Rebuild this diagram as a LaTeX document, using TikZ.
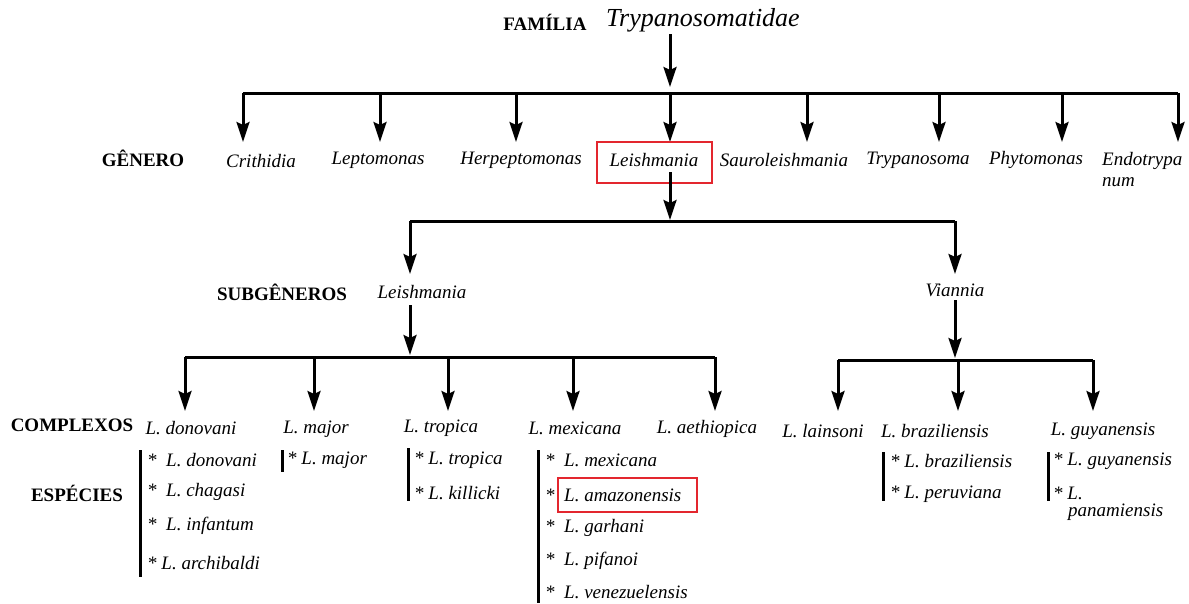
\documentclass[tikz,border=0pt]{standalone}
\usepackage{fontspec}
\setmainfont{Liberation Serif}
\usetikzlibrary{arrows.meta}
\definecolor{boxred}{HTML}{E3262E}
\tikzset{
  line/.style={line width=3pt},
  arr/.style={line width=3pt,-{Stealth[length=20pt,width=13pt,inset=3pt]}},
  lbl/.style={font=\fontsize{19}{22}\selectfont\bfseries,inner sep=0pt},
  tax/.style={font=\fontsize{19}{22}\selectfont\itshape,inner sep=0pt},
  sp/.style={font=\fontsize{19}{22}\selectfont\itshape,inner sep=0pt,anchor=west},
  redbox/.style={draw=boxred,line width=2.8pt},
}
\begin{document}
\begin{tikzpicture}[x=1pt,y=-1pt]
\useasboundingbox (0,0) rectangle (1189,603);
% family
\node[lbl] (fam) at (545,22) {FAMÍLIA};
\node[tax,font=\fontsize{26}{30}\selectfont\itshape] (tryp) at (703,20) {Trypanosomatidae};
\coordinate (t0) at (670,34);
\coordinate (j0) at (670,87);
\draw[arr] (t0) -- (j0);
\coordinate (bl0) at (243,93);
\coordinate (br0) at (1178,93);
\draw[line] (bl0) -- (br0);
% genus arrows
\foreach \x/\n in {243/1,380/2,516/3,670/4,807/5,939/6,1062/7,1178/8}{
  \coordinate (gj\n) at (\x,93);
  \coordinate (ga\n) at (\x,142);
  \draw[arr] (gj\n) -- (ga\n);
}
\node[lbl] (gen) at (143,158) {GÊNERO};
\node[tax] (crith) at (261,161) {Crithidia};
\node[tax] (lepto) at (378,160) {Leptomonas};
\node[tax] (herp) at (521,160) {Herpeptomonas};
\node[tax] (leish) at (654,160) {Leishmania};
\node[redbox,minimum width=115pt,minimum height=41pt,inner sep=0pt] (leishbox) at (654.5,162.5) {};
\node[tax] (sauro) at (784,160) {Sauroleishmania};
\node[tax] (tryps) at (918,160) {Trypanosoma};
\node[tax] (phyto) at (1036,160) {Phytomonas};
\node[tax,anchor=west,align=left,font=\fontsize{19}{21}\selectfont\itshape] (endo) at (1102,170) {Endotrypa\\num};
% subgenus level
\coordinate (l0) at (670,172);
\coordinate (j1) at (670,220);
\draw[arr] (l0) -- (j1);
\coordinate (bl1) at (410,221);
\coordinate (br1) at (955,221);
\draw[line] (bl1) -- (br1);
\coordinate (sa1) at (410,274);
\coordinate (sa2) at (955,274);
\draw[arr] (bl1) -- (sa1);
\draw[arr] (br1) -- (sa2);
\node[lbl] (subg) at (282,292) {SUBGÊNEROS};
\node[tax] (subl) at (422,292) {Leishmania};
\node[tax] (vian) at (955,290) {Viannia};
% complexes, subgenus Leishmania
\coordinate (s1) at (410,305);
\coordinate (j2) at (410,355);
\draw[arr] (s1) -- (j2);
\coordinate (bl2) at (185,357);
\coordinate (br2) at (715,357);
\draw[line] (bl2) -- (br2);
\foreach \x/\n in {185/1,314/2,448/3,573/4,715/5}{
  \coordinate (cj\n) at (\x,357);
  \coordinate (ca\n) at (\x,411);
  \draw[arr] (cj\n) -- (ca\n);
}
% complexes, subgenus Viannia
\coordinate (s2) at (955,300);
\coordinate (j3) at (955,358);
\draw[arr] (s2) -- (j3);
\coordinate (bl3) at (838,360);
\coordinate (br3) at (1093,360);
\draw[line] (bl3) -- (br3);
\foreach \x/\n in {838/6,958/7,1093/8}{
  \coordinate (cj\n) at (\x,360);
  \coordinate (ca\n) at (\x,411);
  \draw[arr] (cj\n) -- (ca\n);
}
\node[lbl] (compl) at (72,425) {COMPLEXOS};
\node[tax] (cdon) at (191,428) {L. donovani};
\node[tax] (cmaj) at (316,429) {L. major};
\node[tax] (ctro) at (441,428) {L. tropica};
\node[tax] (cmex) at (575,428) {L. mexicana};
\node[tax] (caet) at (707,429) {L. aethiopica};
\node[tax] (clai) at (823,431) {L. lainsoni};
\node[tax] (cbra) at (935,431) {L. braziliensis};
\node[tax] (cguy) at (1103,431) {L. guyanensis};
% species
\node[lbl] (esp) at (77,493) {ESPÉCIES};
% donovani
\coordinate (d1) at (140,450); \coordinate (d2) at (140,577);
\draw[line] (d1) -- (d2);
\node[sp] (sdon) at (147,460) {*\ \ L. donovani};
\node[sp] (scha) at (147,492) {*\ \ L. chagasi};
\node[sp] (sinf) at (147,526) {*\ \ L. infantum};
\node[sp] (sarc) at (147,563) {* L. archibaldi};
% major
\coordinate (m1) at (282,450); \coordinate (m2) at (282,472);
\draw[line] (m1) -- (m2);
\node[sp] (smaj) at (287,460) {* L. major};
% tropica
\coordinate (r1) at (408,448); \coordinate (r2) at (408,501);
\draw[line] (r1) -- (r2);
\node[sp] (stro) at (414,460) {* L. tropica};
\node[sp] (skil) at (414,493) {* L. killicki};
% mexicana
\coordinate (x1) at (538,450); \coordinate (x2) at (538,603);
\draw[line] (x1) -- (x2);
\node[sp] (smex) at (545,460) {*\ \ L. mexicana};
\node[sp] (sama) at (545,495) {*\ \ L. amazonensis};
\node[sp] (sgar) at (545,528) {*\ \ L. garhani};
\node[sp] (spif) at (545,561) {*\ \ L. pifanoi};
\node[sp] (sven) at (545,592) {*\ \ L. venezuelensis};
\node[redbox,minimum width=139pt,minimum height=34pt,inner sep=0pt] (amabox) at (627.5,495) {};
% braziliensis
\coordinate (z1) at (883,452); \coordinate (z2) at (883,501);
\draw[line] (z1) -- (z2);
\node[sp] (sbra) at (890,461) {* L. braziliensis};
\node[sp] (sper) at (890,494) {* L. peruviana};
% guyanensis
\coordinate (y1) at (1048,452); \coordinate (y2) at (1048,501);
\draw[line] (y1) -- (y2);
\node[sp] (sguy) at (1053,461) {* L. guyanensis};
\node[sp] (span) at (1053,493) {* L.};
\node[sp] (span2) at (1068,512) {panamiensis};
\end{tikzpicture}
\end{document}
